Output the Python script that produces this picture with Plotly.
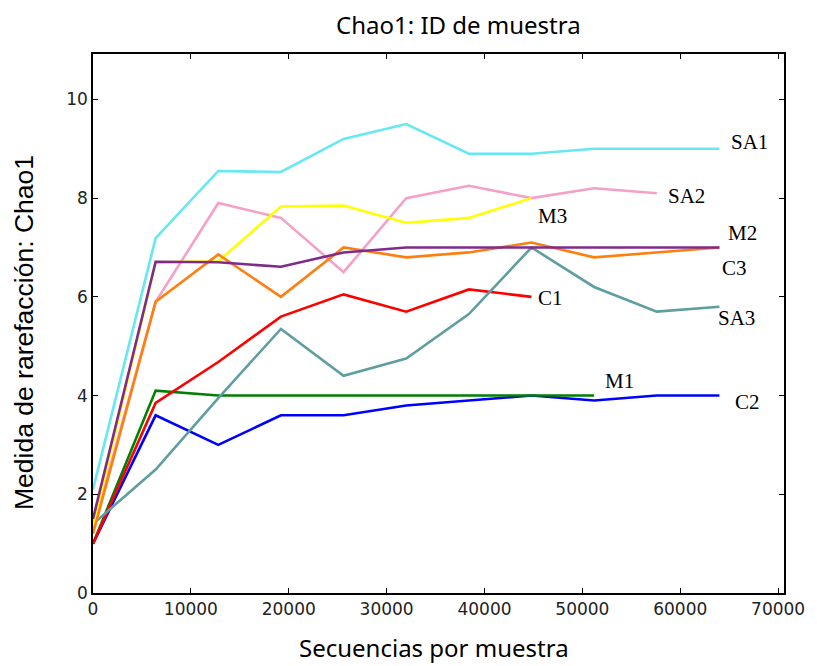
import plotly.graph_objects as go

x_full = [0, 6400, 12800, 19200, 25600, 32000, 38400, 44800, 51200, 57600, 64000]

series = {
    "C2":  [1.0, 3.6, 3.0, 3.6, 3.6, 3.8, 3.9, 4.0, 3.9, 4.0, 4.0],
    "M1":  [1.0, 4.1, 4.0, 4.0, 4.0, 4.0, 4.0, 4.0, 4.0],
    "C1":  [1.0, 3.85, 4.68, 5.6, 6.05, 5.7, 6.15, 6.0],
    "SA3": [1.4, 2.5, 3.95, 5.35, 4.4, 4.75, 5.65, 7.0, 6.2, 5.7, 5.8],
    "SA2": [1.3, 5.9, 7.9, 7.6, 6.5, 8.0, 8.25, 8.0, 8.2, 8.1],
    "M3":  [1.35, 6.7, 6.72, 7.83, 7.85, 7.5, 7.6, 8.0],
    "C3":  [1.2, 5.9, 6.86, 6.0, 7.0, 6.8, 6.9, 7.1, 6.8, 6.9, 7.0],
    "M2":  [1.5, 6.71, 6.7, 6.61, 6.9, 7.0, 7.0, 7.0, 7.0, 7.0, 7.0],
    "SA1": [2.1, 7.19, 8.55, 8.53, 9.2, 9.5, 8.9, 8.9, 9.0, 9.0, 9.0],
}

colors = {
    "C2": "#0000ff", "M1": "#008000", "C1": "#ff0000", "SA3": "#5f9ea0",
    "SA2": "#f4a0c8", "M3": "#ffff00", "C3": "#ff7f0e", "M2": "#7f2a8c",
    "SA1": "#66e8f2",
}

# label positions (data coords)
label_pos = {
    "SA1": (67100, 9.13), "SA2": (60600, 8.04), "M3": (46900, 7.63),
    "M2": (66400, 7.29), "C3": (65500, 6.58), "C1": (46700, 5.97),
    "SA3": (65700, 5.57), "M1": (53800, 4.29), "C2": (66900, 3.87),
}

x_ticks = [0, 10000, 20000, 30000, 40000, 50000, 60000, 70000]
y_ticks = [0, 2, 4, 6, 8, 10]

fig = go.Figure()
for name, vals in series.items():
    fig.add_trace(go.Scatter(
        x=x_full[:len(vals)], y=vals, mode="lines", name=name,
        line=dict(color=colors[name], width=2.6), showlegend=False,
    ))

for name, (lx, ly) in label_pos.items():
    fig.add_annotation(x=lx, y=ly, xref="x", yref="y", text=name, showarrow=False,
                       font=dict(family="Liberation Serif", size=21, color="black"),
                       xanchor="center", yanchor="middle")

fig.add_annotation(x=0.529, y=1.054, xref="paper", yref="paper", text="Chao1: ID de muestra",
                   showarrow=False, font=dict(family="Noto Sans", size=24, color="black"),
                   xanchor="center", yanchor="middle")
fig.add_annotation(x=0.494, y=-0.102, xref="paper", yref="paper", text="Secuencias por muestra",
                   showarrow=False, font=dict(family="Noto Sans", size=24, color="black"),
                   xanchor="center", yanchor="middle")
fig.add_annotation(x=-0.1, y=0.484, xref="paper", yref="paper", text="Medida de rarefacción: Chao1",
                   showarrow=False, textangle=-90,
                   font=dict(family="Liberation Sans", size=26.5, color="black"),
                   xanchor="center", yanchor="middle")

axis_common = dict(showline=True, linecolor="black", linewidth=1.5, mirror="allticks",
                   ticks="inside", ticklen=5, tickwidth=1, tickcolor="black",
                   showgrid=False, zeroline=False,
                   tickfont=dict(family="DejaVu Sans", size=17, color="#222"))

fig.update_xaxes(range=[0, 70600], tickvals=x_ticks, ticktext=[str(v) for v in x_ticks], **axis_common)
fig.update_yaxes(range=[0, 10.92], tickvals=y_ticks, ticktext=[str(v) for v in y_ticks], **axis_common)

fig.update_layout(
    width=817, height=666,
    margin=dict(l=93, r=28, t=54, b=73),
    plot_bgcolor="white", paper_bgcolor="white",
)

fig.write_html("out.html")
